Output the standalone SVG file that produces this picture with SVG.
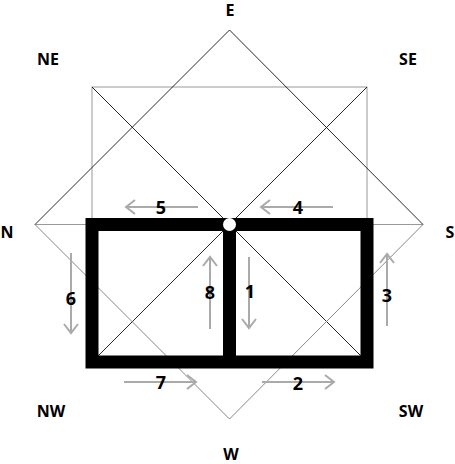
<svg xmlns="http://www.w3.org/2000/svg" width="455" height="464" viewBox="0 0 455 464">
<defs>
<style>
.thin{stroke:#111;stroke-width:0.9;fill:none}
.gray{stroke:#999;stroke-width:1;fill:none}
.low{stroke:#888;stroke-width:1;fill:none}
.frame{stroke:#000;stroke-width:13;fill:none}
.arr{stroke:#aaa;stroke-width:2;fill:none}
.lbl{font-family:"Noto Sans","DejaVu Sans",sans-serif;font-weight:bold;font-size:16px;fill:#000;text-anchor:middle}
.num{font-family:"Noto Sans","DejaVu Sans",sans-serif;font-weight:bold;font-size:18px;fill:#000;text-anchor:middle}
</style>
<marker id="hd" viewBox="0 0 12 16" refX="10" refY="8" markerWidth="12" markerHeight="16" markerUnits="userSpaceOnUse" orient="auto">
<path d="M1,1 L10,8 L1,15" fill="none" stroke="#aaa" stroke-width="2"/>
</marker>
</defs>
<rect width="455" height="464" fill="#fff"/>
<g id="guides">
<rect x="92" y="87" width="275" height="137.5" class="gray"/>
<line x1="35" y1="224.5" x2="423" y2="224.5" class="gray"/>
<line x1="92" y1="87" x2="367" y2="362" class="thin"/>
<line x1="367" y1="87" x2="92" y2="362" class="thin"/>
<polyline points="35,224.5 229.5,30 423,224.5" class="thin"/>
<polyline points="35,224.5 229.5,419 423,224.5" class="low"/>
</g>
<g id="frame">
<rect x="92" y="224.5" width="275" height="137.5" class="frame"/>
<line x1="229.5" y1="224.5" x2="229.5" y2="362" class="frame"/>
<circle cx="229.5" cy="224.5" r="6.5" fill="#fff"/>
</g>
<g id="connectors">
<line x1="198" y1="207" x2="126" y2="207" class="arr" marker-end="url(#hd)"/>
<line x1="333" y1="207" x2="261" y2="207" class="arr" marker-end="url(#hd)"/>
<line x1="71" y1="253" x2="71" y2="333" class="arr" marker-end="url(#hd)"/>
<line x1="210" y1="329" x2="210" y2="257" class="arr" marker-end="url(#hd)"/>
<line x1="249" y1="257" x2="249" y2="328" class="arr" marker-end="url(#hd)"/>
<line x1="387" y1="326" x2="387" y2="254" class="arr" marker-end="url(#hd)"/>
<line x1="124" y1="382" x2="196" y2="382" class="arr" marker-end="url(#hd)"/>
<line x1="262" y1="382" x2="334" y2="382" class="arr" marker-end="url(#hd)"/>
</g>
<g id="compass">
<text class="lbl" x="230" y="16">E</text>
<text class="lbl" x="48" y="65">NE</text>
<text class="lbl" x="408" y="65">SE</text>
<text class="lbl" x="7" y="238">N</text>
<text class="lbl" x="450" y="238">S</text>
<text class="lbl" x="51" y="417">NW</text>
<text class="lbl" x="411" y="417">SW</text>
<text class="lbl" x="231" y="460">W</text>
</g>
<g id="numbers">
<text class="num" x="161" y="214">5</text>
<text class="num" x="298" y="214">4</text>
<text class="num" x="71" y="305">6</text>
<text class="num" x="210" y="299">8</text>
<text class="num" x="250" y="298">1</text>
<text class="num" x="387" y="302">3</text>
<text class="num" x="161" y="389">7</text>
<text class="num" x="298" y="390">2</text>
</g>
</svg>
